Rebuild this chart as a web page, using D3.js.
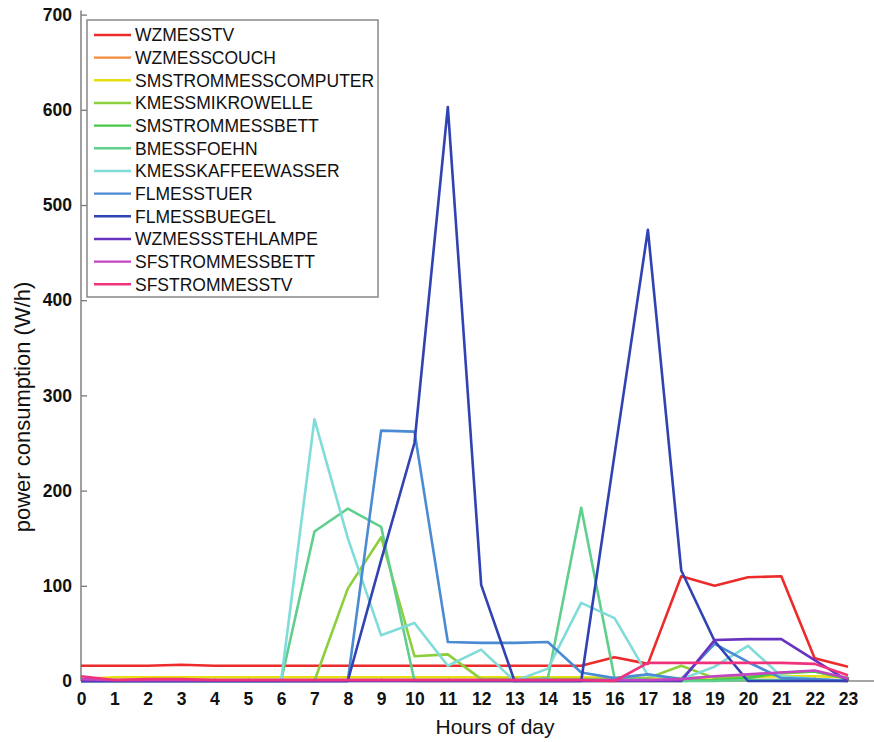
<!DOCTYPE html>
<html>
<head>
<meta charset="utf-8">
<script src="https://cdn.jsdelivr.net/npm/d3@7"></script>
<style>
  body { margin: 0; background: #fff; }
  svg { display: block; font-family: "Liberation Sans", Arial, sans-serif; }
</style>
</head>
<body>
<svg id="chart" width="874" height="742"></svg>
<script>
// ---- data ----
const hours = [0,1,2,3,4,5,6,7,8,9,10,11,12,13,14,15,16,17,18,19,20,21,22,23];
const yTicks = [0,100,200,300,400,500,600,700];
const seriesNames = ["WZMESSTV","WZMESSCOUCH","SMSTROMMESSCOMPUTER","KMESSMIKROWELLE","SMSTROMMESSBETT","BMESSFOEHN","KMESSKAFFEEWASSER","FLMESSTUER","FLMESSBUEGEL","WZMESSSTEHLAMPE","SFSTROMMESSBETT","SFSTROMMESSTV"];
const seriesColors = ["#ec2b2b","#f28c3c","#e6de10","#8ccf3c","#45c845","#5fcf8e","#80dcd8","#4a8bd4","#3142b2","#6a32c0","#c445c2","#f0327c"];

const wzmesstv        = [16,16,16,17,16,16,16,16,16,16,16,16,16,16,16,16,25,18,110,100,109,110,24,15];
const wzmesscouch     = [1,1,1,1,1,1,1,1,1,1,1,1,1,1,1,1,1,1,1,1,1,1,1,1];
const smstromComputer = [2,4,4,4,4,4,4,4,4,4,4,4,4,4,4,4,3,3,3,4,4,5,5,4];
const kmessMikrowelle = [0,0,0,0,0,0,0,0,97,151,26,28,2,2,2,2,2,3,16,3,5,8,10,3];
const smstromBett     = [0,0,0,0,0,0,0,0,0,0,0,0,0,0,0,0,0,0,0,1,3,9,10,2];
const bmessFoehn      = [0,0,0,0,0,0,0,157,181,162,0,0,0,0,3,182,3,1,0,0,1,1,1,0];
const kmessKaffee     = [0,0,0,0,0,0,0,275,150,48,61,16,33,0,13,82,66,6,2,15,37,5,2,0];
const flmessTuer      = [0,0,0,0,0,0,0,0,0,263,262,41,40,40,41,9,3,7,2,39,20,3,2,0];
const flmessBuegel    = [0,0,0,0,0,0,0,0,0,127,250,603,101,0,0,0,238,474,116,42,0,0,0,0];
const wzmessStehlampe = [0,0,0,0,0,0,0,0,0,0,0,0,0,0,0,0,0,0,0,43,44,44,22,0];
const sfstromBett     = [2,1,1,1,1,1,1,1,1,1,1,1,1,1,1,1,1,1,2,5,7,9,11,3];
const sfstromTv       = [5,1,2,2,1,1,1,1,1,1,1,1,1,1,1,1,0,19,19,19,19,19,18,6];

const seriesValues = [wzmesstv, wzmesscouch, smstromComputer, kmessMikrowelle, smstromBett, bmessFoehn, kmessKaffee, flmessTuer, flmessBuegel, wzmessStehlampe, sfstromBett, sfstromTv];

// ---- layout ----
const svg = d3.select("#chart");
const W = 874;
const x = d3.scaleLinear().domain([0, 23]).range([81, 848]);
const y = d3.scaleLinear().domain([0, 700]).range([681, 14.6]);

// axes
const xAxis = d3.axisBottom(x).tickValues(hours).tickFormat(d3.format("d")).tickSizeInner(-4).tickSizeOuter(0).tickPadding(12);
const gx = svg.append("g").attr("transform", `translate(0,${y(0)})`).call(xAxis);
gx.select(".domain").remove();
gx.selectAll(".tick line").attr("stroke", "#777").attr("stroke-width", 1.3);
gx.selectAll(".tick text").attr("font-size", 17.5).attr("font-weight", "bold").attr("fill", "#111").attr("font-family", "Liberation Sans, Arial, sans-serif");

const yAxis = d3.axisLeft(y).tickValues(yTicks).tickSizeInner(-6).tickSizeOuter(0).tickPadding(9);
const gy = svg.append("g").attr("transform", `translate(${x(0)},0)`).call(yAxis);
gy.select(".domain").remove();
gy.selectAll(".tick line").attr("stroke", "#777").attr("stroke-width", 1.3);
gy.selectAll(".tick text").attr("font-size", 17.5).attr("font-weight", "bold").attr("fill", "#111").attr("font-family", "Liberation Sans, Arial, sans-serif");

// axis lines
svg.append("line").attr("x1", x(0)).attr("x2", W).attr("y1", y(0)).attr("y2", y(0))
  .attr("stroke", "#888").attr("stroke-width", 1.6);
svg.append("line").attr("x1", x(0)).attr("x2", x(0)).attr("y1", y(0)).attr("y2", y(700) - 4)
  .attr("stroke", "#888").attr("stroke-width", 1.6);

// lines
const line = d3.line().x((d, i) => x(hours[i])).y(d => y(d));
seriesValues.forEach((vals, k) => {
  svg.append("path").datum(vals)
    .attr("d", line)
    .attr("fill", "none")
    .attr("stroke", seriesColors[k])
    .attr("stroke-width", 2.6)
    .attr("stroke-linejoin", "round");
});

// legend
const lg = svg.append("g");
lg.append("rect").attr("x", 87).attr("y", 20).attr("width", 291).attr("height", 277)
  .attr("fill", "#fff").attr("stroke", "#888").attr("stroke-width", 1.5);
seriesNames.forEach((name, k) => {
  const cy = 35 + k * 22.66;
  lg.append("line").attr("x1", 94).attr("x2", 131).attr("y1", cy).attr("y2", cy)
    .attr("stroke", seriesColors[k]).attr("stroke-width", 2.4);
  lg.append("text").attr("x", 135).attr("y", cy).attr("dy", "0.36em")
    .attr("font-size", 17.5).attr("fill", "#111").text(name);
});

// axis titles
svg.append("text").attr("x", 495).attr("y", 734).attr("text-anchor", "middle")
  .attr("font-size", 21).attr("fill", "#111").text("Hours of day");
svg.append("text").attr("transform", "translate(30,407) rotate(-90)").attr("text-anchor", "middle")
  .attr("font-size", 22).attr("fill", "#111").text("power consumption (W/h)");
</script>
</body>
</html>
